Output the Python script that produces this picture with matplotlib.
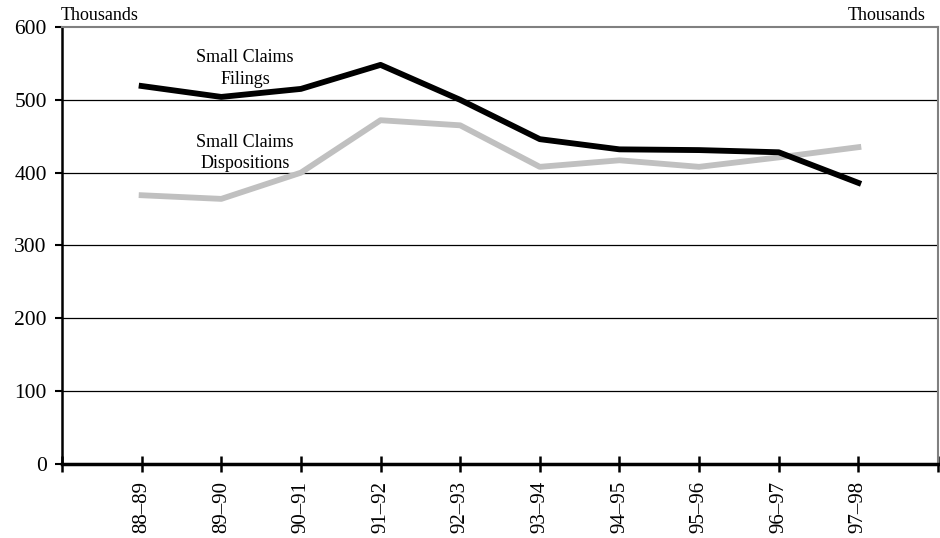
import matplotlib
matplotlib.use('Agg')
from matplotlib import pyplot as plt

# Fiscal years
years = ['88\u201389', '89\u201390', '90\u201391', '91\u201392', '92\u201393',
         '93\u201394', '94\u201395', '95\u201396', '96\u201397', '97\u201398']

# Values in thousands
filings = [519, 504, 515, 548, 500, 446, 432, 431, 428, 386]
dispositions = [369, 364, 400, 472, 465, 408, 417, 408, 421, 435]

y_ticks = [0, 100, 200, 300, 400, 500, 600]


def main():
    plt.rcParams['font.family'] = ['Liberation Serif', 'DejaVu Serif']
    fig = plt.figure(figsize=(9.4, 5.38), dpi=100)
    ax = fig.add_axes([62 / 940, 1 - 464 / 538, 876 / 940, 437 / 538])

    x = list(range(len(years)))
    for y in y_ticks[1:-1]:
        ax.axhline(y, color='black', lw=0.9, zorder=1)

    ax.plot(x, dispositions, color='#c0c0c0', lw=4.2, zorder=3)
    ax.plot(x, filings, color='black', lw=4.2, zorder=4)

    ax.set_xlim(-1, len(years))
    ax.set_ylim(0, 600)
    ax.set_yticks(y_ticks)
    ax.set_yticklabels([str(v) for v in y_ticks], fontsize=15.5)
    ax.set_xticks(range(-1, len(years) + 1))
    ax.set_xticklabels([''] + years + [''], rotation=90, fontsize=15)

    ax.tick_params(axis='x', direction='inout', length=12, width=1.8, pad=6)
    ax.tick_params(axis='y', direction='out', length=5, width=1.5, pad=6)

    ax.spines['left'].set_linewidth(1.8)
    ax.spines['bottom'].set_linewidth(2.5)
    ax.spines['top'].set_color('#808080')
    ax.spines['right'].set_color('#808080')
    ax.spines['top'].set_linewidth(1.5)
    ax.spines['right'].set_linewidth(1.5)

    fig.text(61 / 940, 1 - 16 / 538, 'Thousands', fontsize=13, ha='left', va='center')
    fig.text(926 / 940, 1 - 16 / 538, 'Thousands', fontsize=13, ha='right', va='center')

    ax.text(1.3, 558, 'Small Claims', fontsize=13, ha='center', va='center')
    ax.text(1.3, 528, 'Filings', fontsize=13, ha='center', va='center')
    ax.text(1.3, 442, 'Small Claims', fontsize=13, ha='center', va='center')
    ax.text(1.3, 412, 'Dispositions', fontsize=13, ha='center', va='center')

    plt.savefig('out.png', dpi=100)


if __name__ == '__main__':
    main()
